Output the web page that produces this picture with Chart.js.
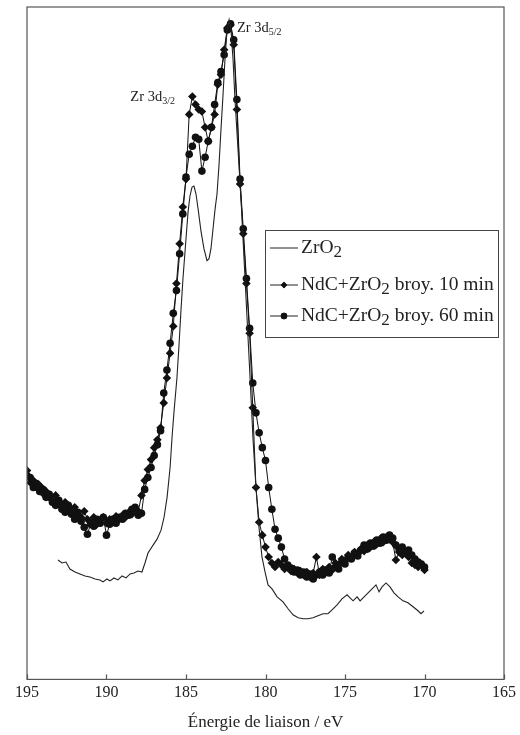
<!DOCTYPE html>
<html>
<head>
<meta charset="utf-8">
<script src="https://cdn.jsdelivr.net/npm/chart.js@4.4.1/dist/chart.umd.min.js"></script>
<style>
  html, body { margin: 0; padding: 0; background: #fff; }
</style>
</head>
<body>
<canvas id="xps" width="520" height="735"></canvas>
<script>
// binding energy grid (eV) shared by the two milled samples
const energyGrid = [
  195.0,194.8,194.6,194.4,194.2,194.0,193.8,193.6,193.4,193.2,
  193.0,192.8,192.6,192.4,192.2,192.0,191.8,191.6,191.4,191.2,
  191.0,190.8,190.6,190.4,190.2,190.0,189.8,189.6,189.4,189.2,
  189.0,188.8,188.6,188.4,188.2,188.0,187.8,187.6,187.4,187.2,
  187.0,186.8,186.6,186.4,186.2,186.0,185.8,185.6,185.4,185.2,
  185.0,184.8,184.6,184.4,184.2,184.0,183.8,183.6,183.4,183.2,
  183.0,182.8,182.6,182.4,182.2,182.0,181.8,181.6,181.4,181.2,
  181.0,180.8,180.6,180.4,180.2,180.0,179.8,179.6,179.4,179.2,
  179.0,178.8,178.6,178.4,178.2,178.0,177.8,177.6,177.4,177.2,
  177.0,176.8,176.6,176.4,176.2,176.0,175.8,175.6,175.4,175.2,
  175.0,174.8,174.6,174.4,174.2,174.0,173.8,173.6,173.4,173.2,
  173.0,172.8,172.6,172.4,172.2,172.0,171.8,171.6,171.4,171.2,
  171.0,170.8,170.6,170.4,170.2,170.0
];

// NdC+ZrO2 milled 10 min (intensity, a.u.)
const milled10 = [
  210,198,200,193,195,187,189,183,180,185,
  176,173,178,171,168,173,165,163,169,161,
  158,163,156,160,163,157,161,158,164,161,
  165,163,168,166,171,169,185,200,211,221,
  233,241,253,278,303,328,355,398,438,475,
  503,568,586,578,573,571,555,541,555,568,
  598,608,633,655,658,638,573,498,448,398,
  348,273,193,158,145,133,123,117,113,118,
  115,111,113,109,111,107,109,105,108,103,
  107,123,105,111,108,113,110,117,115,121,
  119,125,123,128,126,131,129,135,133,138,
  136,141,138,143,141,138,120,128,125,127,
  123,117,115,113,115,110
];

// NdC+ZrO2 milled 60 min (intensity, a.u.)
const milled60 = [
  205,203,193,197,189,191,183,186,178,175,
  180,171,168,175,166,161,168,159,153,146,
  156,154,161,157,163,145,156,161,157,163,
  161,167,165,171,173,165,167,191,203,213,
  225,236,250,288,311,338,368,391,428,468,
  505,528,536,545,543,511,525,541,555,578,
  600,611,628,653,659,643,583,503,453,403,
  353,298,268,248,233,220,193,171,151,142,
  133,121,115,112,108,110,105,108,103,106,
  101,105,108,105,110,107,123,113,111,118,
  116,123,121,127,124,130,135,131,137,134,
  140,137,143,140,145,142,135,131,133,128,
  130,125,121,118,116,113
];

// pure ZrO2 reference
const zro2Energy = [
  193.05,192.80,192.55,192.30,191.98,191.67,191.35,191.04,190.72,190.41,
  190.22,189.97,189.78,189.53,189.28,189.02,188.77,188.52,188.27,188.02,
  187.77,187.58,187.39,187.07,186.82,186.57,186.38,186.19,186.00,185.88,
  185.75,185.57,185.44,185.32,185.19,185.00,184.87,184.75,184.62,184.50,
  184.37,184.24,184.06,183.87,183.68,183.55,183.43,183.30,183.17,183.05,
  182.92,182.80,182.67,182.55,182.42,182.29,182.17,182.04,181.92,181.73,
  181.54,181.35,181.16,180.97,180.79,180.60,180.41,180.22,180.03,179.84,
  179.59,179.27,178.90,178.58,178.27,177.95,177.64,177.33,177.01,176.70,
  176.38,176.07,175.75,175.50,175.19,174.87,174.68,174.49,174.24,174.05,
  173.80,173.55,173.30,173.05,172.86,172.67,172.42,172.17,171.92,171.66,
  171.35,171.04,170.72,170.41,170.22,170.03
];
const zro2Counts = [
  120,117,118,111,108,106,104,103,101,100,
  98,101,99,102,100,104,102,106,107,109,
  108,117,127,135,141,150,163,183,213,243,
  270,303,336,370,403,443,470,486,495,496,
  488,473,451,433,421,423,433,453,473,488,
  518,553,588,623,653,663,653,623,583,533,
  483,423,363,303,243,193,153,123,108,95,
  91,83,78,71,65,62,61,61,62,64,
  66,66,71,75,81,85,82,79,83,79,
  83,87,91,95,88,93,97,93,87,83,
  79,77,73,69,66,69
];

const xTicks = [195, 190, 185, 180, 175, 170, 165];
const legendParts = [
  ['ZrO', '2', ''],
  ['NdC+ZrO', '2', ' broy. 10 min'],
  ['NdC+ZrO', '2', ' broy. 60 min']
];
const peakLabels = [
  { main: 'Zr 3d', sub: '5/2', e: 181.8, y: 651 },
  { main: 'Zr 3d', sub: '3/2', e: 188.5, y: 581 }
];

const SERIF = '"Liberation Serif", "DejaVu Serif", serif';
const toPoints = (xs, ys) => xs.map((e, i) => ({ x: e, y: ys[i] }));

function subText(ctx, x, y, parts, size, subSize, drop) {
  // parts: [normal, subscript, normal]
  ctx.font = size + 'px ' + SERIF;
  ctx.fillText(parts[0], x, y);
  x += ctx.measureText(parts[0]).width;
  ctx.font = subSize + 'px ' + SERIF;
  ctx.fillText(parts[1], x, y + drop);
  x += ctx.measureText(parts[1]).width;
  if (parts[2]) {
    ctx.font = size + 'px ' + SERIF;
    ctx.fillText(parts[2], x, y);
    x += ctx.measureText(parts[2]).width;
  }
  return x;
}

const frame = {
  id: 'frame',
  afterDraw(chart) {
    const { ctx, chartArea: a, scales: { x, y } } = chart;
    ctx.save();
    ctx.strokeStyle = '#555';
    ctx.lineWidth = 1.2;
    ctx.strokeRect(a.left, a.top, a.right - a.left, a.bottom - a.top);
    xTicks.forEach(v => {
      const px = Math.round(x.getPixelForValue(v)) + 0.5;
      ctx.beginPath();
      ctx.moveTo(px, a.bottom);
      ctx.lineTo(px, a.bottom - 5);
      ctx.stroke();
    });

    // peak labels
    ctx.fillStyle = '#222';
    ctx.textBaseline = 'alphabetic';
    peakLabels.forEach(p => {
      const px = x.getPixelForValue(p.e);
      const py = y.getPixelForValue(p.y);
      subText(ctx, px, py, [p.main, p.sub, ''], 14.5, 10, 3);
    });

    // legend box
    const bx = a.left + 238, by = a.top + 223, bw = 233, bh = 107;
    ctx.strokeStyle = '#444';
    ctx.lineWidth = 1;
    ctx.strokeRect(bx + 0.5, by + 0.5, bw, bh);
    const rows = [by + 18, by + 55, by + 86];
    chart.data.datasets.forEach((ds, i) => {
      const ry = rows[i];
      ctx.strokeStyle = '#222';
      ctx.lineWidth = 1;
      ctx.beginPath();
      ctx.moveTo(bx + 5, ry);
      ctx.lineTo(bx + 33, ry);
      ctx.stroke();
      if (ds.pointRadius) {
        ctx.fillStyle = '#111';
        Chart.helpers.drawPoint(ctx, { pointStyle: ds.pointStyle, radius: 3.2, borderWidth: 0 }, bx + 19, ry);
        ctx.fill();
      }
      ctx.fillStyle = '#222';
      ctx.textBaseline = 'middle';
      subText(ctx, bx + 36, ry, legendParts[i], 19.5, 17, 5);
    });
    ctx.restore();
  }
};

new Chart(document.getElementById('xps'), {
  type: 'line',
  data: {
    datasets: [
      {
        label: 'ZrO₂',
        data: toPoints(zro2Energy, zro2Counts),
        borderColor: '#222',
        borderWidth: 1.1,
        pointRadius: 0
      },
      {
        label: 'NdC+ZrO₂ broy. 10 min',
        data: toPoints(energyGrid, milled10),
        borderColor: '#111',
        borderWidth: 1,
        pointStyle: 'rectRot',
        pointRadius: 4.3,
        pointBackgroundColor: '#111',
        pointBorderWidth: 0
      },
      {
        label: 'NdC+ZrO₂ broy. 60 min',
        data: toPoints(energyGrid, milled60),
        borderColor: '#111',
        borderWidth: 1,
        pointStyle: 'circle',
        pointRadius: 3.8,
        pointBackgroundColor: '#111',
        pointBorderWidth: 0
      }
    ]
  },
  options: {
    responsive: false,
    animation: false,
    devicePixelRatio: 1,
    layout: { padding: { left: 27, right: 16, top: 7, bottom: 1 } },
    plugins: { legend: { display: false }, tooltip: { enabled: false } },
    scales: {
      x: {
        type: 'linear',
        reverse: true,
        min: 165,
        max: 195,
        ticks: {
          stepSize: 5,
          padding: 4,
          color: '#222',
          font: { family: SERIF, size: 16 }
        },
        grid: { display: false, drawTicks: false },
        border: { display: false },
        title: {
          display: true,
          text: 'Énergie de liaison / eV',
          color: '#222',
          font: { family: SERIF, size: 17 },
          padding: { top: 6, bottom: 1 }
        }
      },
      y: { display: false, min: 0, max: 676 }
    }
  },
  plugins: [frame]
});
</script>
</body>
</html>
